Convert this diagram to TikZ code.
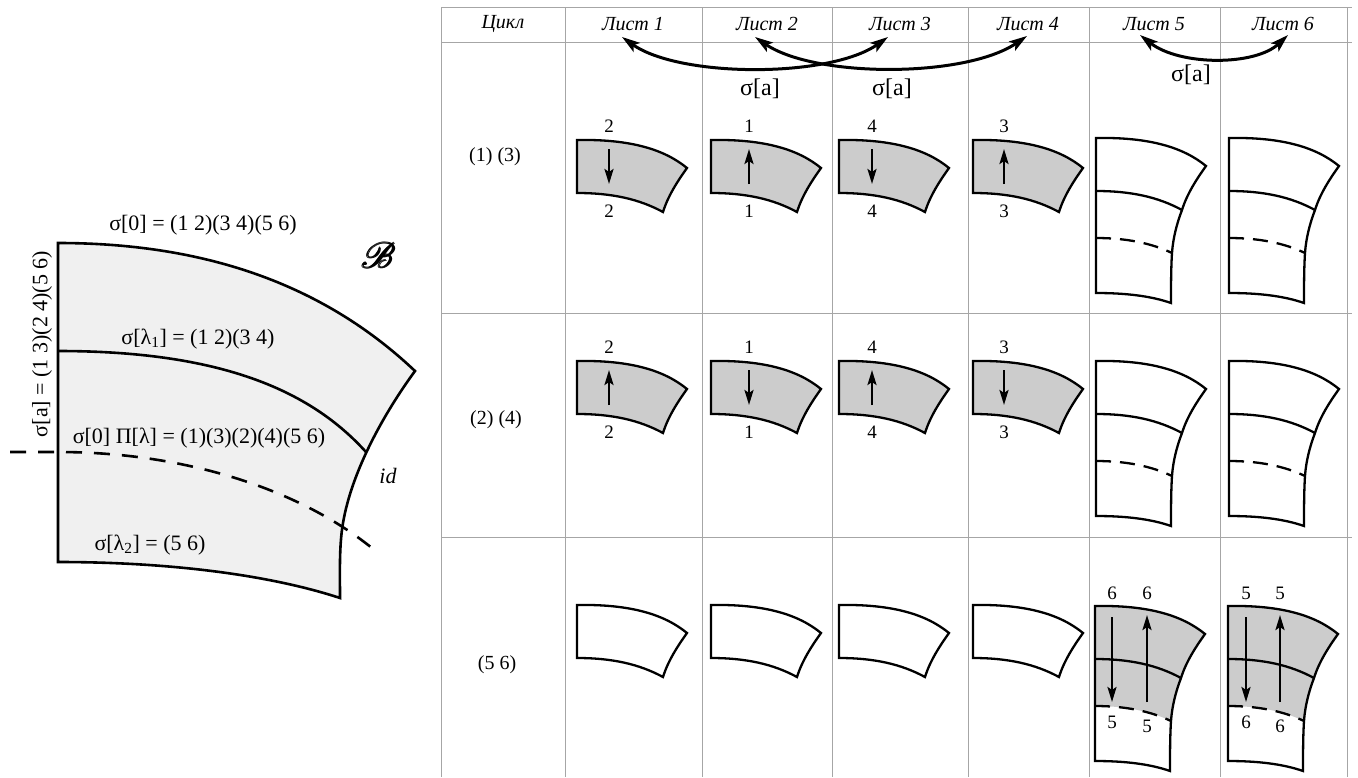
\documentclass[tikz,border=0pt]{standalone}
\usepackage{amsmath}
\usepackage{mathrsfs}
\usepackage{fontspec}
\setmainfont{Liberation Serif}
\usetikzlibrary{arrows.meta}
\begin{document}
\begin{tikzpicture}[x=1pt,y=-1pt,
  grid/.style={draw=black!35, line width=1pt},
  shp/.style={line width=2.3pt, line join=miter},
  bshp/.style={line width=2.6pt, line join=miter},
  dsh/.style={shp, dash pattern=on 15pt off 9pt},
  bdsh/.style={bshp, dash pattern=on 16pt off 12pt},
  arr/.style={line width=2.5pt, -{Stealth[length=15pt,width=9pt,inset=3pt]}},
  dbl/.style={line width=3pt, {Stealth[length=18pt,width=11pt,inset=4pt]}-{Stealth[length=18pt,width=11pt,inset=4pt]}},
  lab/.style={inner sep=0pt, font=\fontsize{22}{24}\selectfont},
  num/.style={inner sep=0pt, font=\fontsize{19}{20}\selectfont},
  hdr/.style={inner sep=0pt, font=\fontsize{20}{22}\selectfont\itshape},
  cyc/.style={inner sep=0pt, font=\fontsize{20}{22}\selectfont},
  sig/.style={inner sep=0pt, font=\fontsize{24}{26}\selectfont},
  small/.pic={
    \filldraw[shp, fill=#1] (0,0) .. controls (55,-1) and (88,10) .. (110,28)
      .. controls (100,42) and (91,56) .. (86,72)
      .. controls (62,59) and (35,53) .. (0,53) -- cycle;
  },
  big/.pic={
    \fill[#1] (0,0) .. controls (55,-1) and (88,10) .. (110,28)
      .. controls (100,42) and (91,56) .. (86,72)
      .. controls (81,85) and (77,100) .. (76,115)
      .. controls (55,105) and (30,100) .. (0,100) -- cycle;
    \draw[shp] (0,0) .. controls (55,-1) and (88,10) .. (110,28)
      .. controls (100,42) and (91,56) .. (86,72)
      .. controls (81,85) and (77,100) .. (76,115)
      .. controls (75,130) and (75,150) .. (75,165)
      .. controls (55,158) and (30,155) .. (0,155) -- cycle;
    \draw[shp] (0,53) .. controls (35,53) and (62,59) .. (86,72);
    \draw[dsh] (0,100) .. controls (30,100) and (55,105) .. (76,115);
  }
]
\useasboundingbox (0,0) rectangle (1358,777);

% ---------- left figure ----------
\filldraw[bshp, fill=black!6] (58,243) .. controls (230,243) and (340,300) .. (415,371)
  .. controls (385,412) and (352,470) .. (343,523)
  .. controls (339,546) and (340,575) .. (340,598)
  .. controls (270,575) and (170,562) .. (58,562) -- cycle;
\draw[bshp] (58,351) .. controls (220,351) and (310,390) .. (366,452);
\draw[bdsh] (10,452) -- (58,452) .. controls (180,452) and (300,487) .. (378,553);

\node[lab] (s0) at (203,225) {σ[0] = (1 2)(3 4)(5 6)};
\node[lab] (sl1) at (198,339) {σ[λ\textsubscript{1}] = (1 2)(3 4)};
\node[lab] (s0p) at (199,438) {σ[0] Π[λ] = (1)(3)(2)(4)(5 6)};
\node[lab] (sl2) at (150,545) {σ[λ\textsubscript{2}] = (5 6)};
\node[lab, font=\fontsize{22}{24}\selectfont\itshape] (id) at (388,476) {id};
\node[lab, rotate=90] (sa) at (42,344) {σ[a] = (1 3)(2 4)(5 6)};
\node[inner sep=0pt, scale=1.45] (B) at (379,255) {\fontsize{24.88}{26}\selectfont$\pmb{\mathscr{B}}$};

% ---------- table grid ----------
\foreach \yy in {7,42,313,537} \draw[grid] (441,\yy) -- (1352,\yy);
\foreach \xx in {441,565,702,832,968,1089,1220,1347} \draw[grid] (\xx,7) -- (\xx,777);

% header
\node[hdr] (h0) at (503,24) {Цикл};
\node[hdr] (h1) at (633,24) {Лист 1};
\node[hdr] (h2) at (767,24) {Лист 2};
\node[hdr] (h3) at (900,24) {Лист 3};
\node[hdr] (h4) at (1028,24) {Лист 4};
\node[hdr] (h5) at (1154,24) {Лист 5};
\node[hdr] (h6) at (1283,24) {Лист 6};

% row labels
\node[cyc] (c1) at (495,157) {(1) (3)};
\node[cyc] (c2) at (496,420) {(2) (4)};
\node[cyc] (c3) at (497,665) {(5 6)};

% double arrows
\coordinate (a1s) at (622,37); \coordinate (a1e) at (888,37);
\coordinate (a2s) at (755,37); \coordinate (a2e) at (1027,36);
\coordinate (a3s) at (1140,35); \coordinate (a3e) at (1288,35);
\draw[dbl] (a1s) .. controls (680,78) and (830,78) .. (a1e);
\draw[dbl] (a2s) .. controls (815,78) and (965,78) .. (a2e);
\draw[dbl] (a3s) .. controls (1180,66) and (1255,66) .. (a3e);
\node[sig] (sa1) at (760,89) {σ[a]};
\node[sig] (sa2) at (892,89) {σ[a]};
\node[sig] (sa3) at (1191,75) {σ[a]};

% row 1 and row 2 small pieces
\foreach \c/\x/\ax/\n/\ys/\ye in {1/577/609/2/149/184, 2/711/749/1/184/149, 3/839/872/4/149/184, 4/973/1004/3/184/149}{
  \pic (p1\c) at (\x,140) {small=black!20};
  \node[num] (n1\c a) at (\ax,126) {\n};
  \node[num] (n1\c b) at (\ax,211) {\n};
  \coordinate (q1\c s) at (\ax,\ys); \coordinate (q1\c e) at (\ax,\ye);
  \draw[arr] (q1\c s) -- (q1\c e);
}
\foreach \c/\x/\ax/\n/\ys/\ye in {1/577/609/2/405/370, 2/711/749/1/370/405, 3/839/872/4/405/370, 4/973/1004/3/370/405}{
  \pic (p2\c) at (\x,361) {small=black!20};
  \node[num] (n2\c a) at (\ax,347) {\n};
  \node[num] (n2\c b) at (\ax,432) {\n};
  \coordinate (q2\c s) at (\ax,\ys); \coordinate (q2\c e) at (\ax,\ye);
  \draw[arr] (q2\c s) -- (q2\c e);
}
% row 3 small white pieces
\foreach \c/\x in {1/577, 2/711, 3/839, 4/973}{
  \pic (p3\c) at (\x,605) {small=white};
}

% big pieces
\pic (b15) at (1096,138) {big=white};
\pic (b16) at (1229,138) {big=white};
\pic (b25) at (1096,361) {big=white};
\pic (b26) at (1229,361) {big=white};
\pic (b35) at (1095,606) {big=black!20};
\pic (b36) at (1228,606) {big=black!20};

% row 3 arrows and labels
\coordinate (d5s) at (1112,617); \coordinate (d5e) at (1112,702);
\coordinate (u5s) at (1147,702); \coordinate (u5e) at (1147,615);
\coordinate (d6s) at (1246,617); \coordinate (d6e) at (1246,702);
\coordinate (u6s) at (1280,702); \coordinate (u6e) at (1280,615);
\draw[arr] (d5s) -- (d5e);
\draw[arr] (u5s) -- (u5e);
\draw[arr] (d6s) -- (d6e);
\draw[arr] (u6s) -- (u6e);
\node[num] (m5a) at (1112,593) {6};
\node[num] (m5b) at (1147,593) {6};
\node[num] (m5c) at (1112,722) {5};
\node[num] (m5d) at (1147,726) {5};
\node[num] (m6a) at (1246,593) {5};
\node[num] (m6b) at (1280,593) {5};
\node[num] (m6c) at (1246,722) {6};
\node[num] (m6d) at (1280,726) {6};
\end{tikzpicture}
\end{document}
